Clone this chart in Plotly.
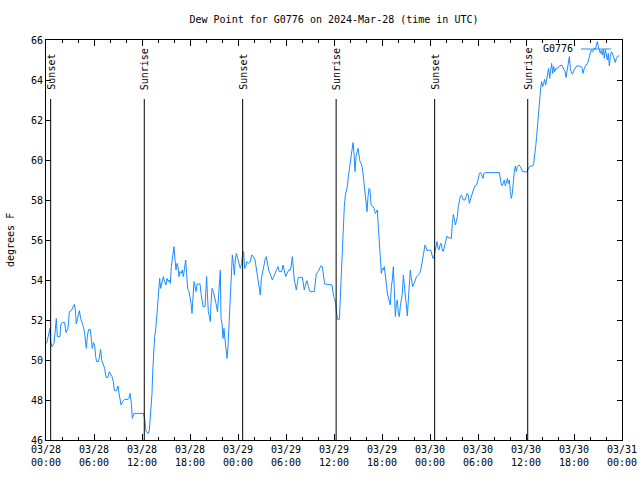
import pandas as pd
import plotly.graph_objects as go

# hours after 2024-03-28 00:00 UTC
hours = [0.08,0.25,0.42,0.5,0.58,0.75,1.0,1.17,1.29,1.42,1.75,1.83,2.04,2.33,2.5,2.75,2.92,3.17,3.42,3.54,3.67,3.79,3.92,4.04,4.17,4.33,4.5,4.67,4.83,4.92,5.04,5.17,5.33,5.54,5.67,5.79,5.92,6.08,6.21,6.33,6.58,6.71,6.83,6.96,7.17,7.33,7.5,7.75,7.92,8.08,8.25,8.42,8.54,8.83,9.0,9.13,9.25,9.38,9.58,9.83,10.25,10.42,10.5,10.67,10.79,10.92,11.0,12.17,12.33,12.5,12.79,12.92,13.08,13.25,13.33,13.46,13.58,13.71,13.83,13.96,14.08,14.21,14.33,14.46,14.67,14.83,15.0,15.13,15.29,15.42,15.54,15.67,15.79,15.92,16.0,16.13,16.25,16.38,16.5,16.63,16.75,16.92,17.04,17.17,17.33,17.46,17.58,17.71,17.88,18.0,18.13,18.25,18.38,18.5,18.63,18.75,18.88,19.25,19.38,19.5,19.63,19.88,20.0,20.08,20.17,20.29,20.42,20.54,20.63,20.75,20.92,21.08,21.25,21.44,21.63,21.79,21.88,22.0,22.13,22.25,22.38,22.5,22.63,22.75,22.88,23.04,23.17,23.29,23.42,23.54,23.67,23.79,23.96,24.13,24.29,24.46,24.58,24.71,24.83,24.96,25.13,25.29,25.54,25.71,25.92,26.13,26.25,26.38,26.54,26.67,26.79,26.92,27.08,27.25,27.42,27.54,27.67,27.83,28.0,28.17,28.29,28.46,28.63,28.83,29.0,29.17,29.46,29.63,29.79,29.96,30.13,30.33,30.54,30.67,30.79,30.92,31.04,31.17,31.29,31.42,31.54,32.04,32.17,32.29,32.46,32.63,32.79,33.0,33.54,33.67,33.79,34.04,34.17,34.33,34.54,34.67,34.83,35.75,35.83,35.96,36.08,36.21,36.33,36.46,36.67,36.79,36.92,37.04,37.17,37.29,37.42,37.54,37.67,37.79,37.92,38.04,38.17,38.29,38.38,38.5,38.63,38.75,38.88,39.0,39.13,39.25,39.38,39.5,39.63,39.75,39.88,40.0,40.13,40.25,40.38,40.5,40.63,40.83,41.0,41.17,41.29,41.42,41.54,41.67,41.79,41.92,42.04,42.17,42.29,42.42,42.54,42.69,42.88,43.04,43.17,43.29,43.42,43.54,43.67,43.79,43.92,44.04,44.17,44.29,44.42,44.54,44.67,44.79,44.92,45.04,45.17,45.29,45.42,45.54,45.67,45.83,46.0,46.17,46.33,46.54,46.71,46.88,47.0,47.13,47.25,47.38,47.5,47.63,47.88,48.13,48.25,48.38,48.5,48.63,48.75,48.88,49.0,49.13,49.25,49.38,49.5,49.63,49.75,49.88,50.0,50.13,50.25,50.67,50.79,50.92,51.04,51.17,51.29,51.42,51.54,51.67,51.79,51.92,52.04,52.17,52.38,52.5,52.63,52.79,52.92,53.04,53.21,53.42,53.63,53.83,54.0,54.17,54.33,54.5,54.63,54.75,54.92,56.67,56.79,56.92,57.04,57.17,57.29,57.42,57.54,57.67,57.79,57.92,58.04,58.17,58.29,58.42,58.54,58.67,58.79,58.92,59.13,59.29,59.46,59.58,60.08,60.29,60.42,60.58,60.83,60.96,61.08,61.21,61.33,61.46,61.58,61.71,61.83,61.96,62.08,62.21,62.33,62.46,62.58,62.71,62.83,62.96,63.08,63.21,63.33,63.46,63.58,63.75,63.96,64.17,64.46,64.67,64.88,65.0,65.13,65.29,65.42,65.54,65.71,65.83,66.0,66.33,66.75,67.0,67.13,67.25,67.42,67.67,67.83,68.0,68.17,68.33,68.5,68.67,68.83,68.92,69.04,69.17,69.29,69.42,69.54,69.67,69.79,69.92,70.04,70.17,70.29,70.42,70.54,70.67,70.83,71.0,71.17,71.29,71.46,71.67]

dewpoint = [50.83,51.17,51.5,51.58,50.9,50.67,50.83,51.75,52.08,51.17,51.17,51.75,51.88,51.88,51.37,51.58,52.42,52.47,52.67,52.78,52.5,51.8,52.03,52.3,52.47,52.08,51.87,51.67,51.33,50.83,50.58,51.2,51.53,51.53,51.0,50.58,50.87,50.75,50.17,49.92,49.92,50.33,50.53,50.0,49.75,49.58,49.13,49.13,49.42,49.33,49.17,48.92,48.47,48.47,48.7,48.33,48.0,47.75,47.92,48.03,48.03,48.13,48.33,47.83,47.08,47.25,47.33,47.33,47.08,46.42,46.33,46.5,47.25,48.33,49.33,50.33,51.17,51.5,52.17,52.83,53.67,54.08,53.58,53.83,54.17,53.92,53.75,54.08,53.92,54.0,53.83,54.67,55.0,55.42,55.67,55.0,54.5,54.83,54.67,54.17,54.42,54.33,54.5,54.17,54.58,55.0,54.33,53.58,53.42,53.17,52.83,52.33,53.0,53.92,53.67,53.42,53.8,53.8,53.33,53.0,52.67,52.67,53.58,54.17,53.33,52.42,52.17,51.92,52.83,53.58,53.42,53.17,52.83,52.4,53.92,54.5,52.08,51.83,51.08,51.58,51.0,50.67,50.08,50.67,51.92,53.25,54.5,55.25,54.83,54.25,55.0,55.33,55.08,54.75,54.58,54.83,55.33,55.42,54.58,54.67,54.92,54.83,54.92,55.25,55.17,55.0,54.67,54.42,54.0,53.5,53.25,54.08,54.42,54.75,55.08,55.17,54.83,54.5,54.33,54.17,54.0,54.17,54.33,54.5,54.67,54.42,54.42,54.75,54.5,54.17,54.33,54.5,54.5,54.75,55.17,54.33,54.0,53.75,53.5,53.83,54.13,54.13,53.75,53.5,53.8,53.97,53.67,53.42,53.42,53.83,54.33,54.42,54.58,54.7,54.67,54.25,53.8,53.75,53.5,53.17,53.08,52.83,52.33,52.03,52.03,53.17,54.17,55.33,56.5,57.67,58.25,58.42,58.67,59.17,59.58,59.92,60.25,60.67,60.87,60.33,59.42,60.17,60.42,60.58,60.25,59.92,59.83,59.67,59.33,58.83,58.25,57.67,57.42,58.17,58.58,58.5,57.75,57.7,57.58,57.33,57.42,57.5,56.67,55.67,54.75,54.33,54.58,54.5,54.67,54.17,53.67,53.3,53.0,52.75,53.67,54.0,54.67,53.33,52.17,52.83,53.0,52.33,52.17,52.67,53.08,53.33,54.25,53.67,53.0,52.5,52.2,53.0,53.75,54.5,54.08,53.67,53.83,54.0,54.17,54.25,54.33,54.58,54.83,55.17,55.5,55.75,55.63,55.47,55.5,55.47,55.25,55.08,55.17,55.5,55.83,55.92,55.58,55.5,55.75,55.83,55.58,55.42,55.58,55.83,56.0,56.2,56.13,56.08,56.83,57.28,57.08,56.75,56.92,57.17,57.67,58.0,58.17,58.25,58.08,58.0,58.0,58.17,58.33,58.25,57.83,58.0,58.25,58.5,58.72,58.75,59.0,59.33,59.37,59.17,59.08,59.33,59.37,59.37,59.0,58.75,58.72,58.92,59.0,58.7,58.92,59.08,58.83,59.0,58.42,58.08,58.33,59.0,59.42,59.7,59.42,59.67,59.75,59.67,59.5,59.42,59.4,59.58,59.67,59.7,59.7,59.83,60.17,60.67,61.17,61.83,62.67,63.08,63.58,63.92,63.67,63.83,64.03,63.75,64.08,64.33,64.58,64.08,64.5,64.83,64.33,64.67,64.42,64.58,64.58,64.7,64.75,64.58,64.42,64.13,64.42,64.7,65.17,64.58,64.33,64.3,64.5,64.7,64.7,64.63,64.33,64.53,64.7,64.83,65.0,65.3,65.5,65.42,65.58,65.53,65.75,65.92,65.67,65.53,65.33,65.5,65.25,65.53,65.08,65.53,65.3,65.0,65.33,64.7,65.17,65.42,65.3,65.08,64.87,65.08,65.2,65.2]

event_labels = ["Sunset", "Sunrise", "Sunset", "Sunrise", "Sunset", "Sunrise"]
event_times = ["2024-03-28 00:35", "2024-03-28 12:17", "2024-03-29 00:35",
               "2024-03-29 12:16", "2024-03-30 00:35", "2024-03-30 12:13"]

series_name = "G0776"
title_text = "Dew Point for G0776 on 2024-Mar-28 (time in UTC)"
y_title = "degrees F"

base = pd.Timestamp("2024-03-28 00:00")
times = base + pd.to_timedelta(hours, unit="h")

FONT = "DejaVu Sans Mono"
LINE_COLOR = "#1a8cff"

fig = go.Figure()
fig.add_trace(go.Scatter(x=times, y=dewpoint, mode="lines", name=series_name,
                         line=dict(color=LINE_COLOR, width=1), showlegend=False))

shapes = []
annotations = []
for lab, t in zip(event_labels, event_times):
    shapes.append(dict(type="line", xref="x", yref="paper", x0=t, x1=t, y0=0, y1=0.8525,
                       line=dict(color="black", width=1)))
    annotations.append(dict(x=t, xref="x", y=0.87, yref="paper", text=lab, textangle=-90,
                            showarrow=False, xanchor="center", yanchor="bottom",
                            font=dict(family=FONT, size=10, color="black")))

# legend (gnuplot style: text then line sample)
shapes.append(dict(type="line", xref="paper", yref="paper",
                   x0=(581 - 46) / 576, x1=(611 - 46) / 576, y0=(440 - 49) / 400, y1=(440 - 49) / 400,
                   line=dict(color=LINE_COLOR, width=1)))
annotations.append(dict(x=(575 - 46) / 576, xref="paper", y=(440 - 49) / 400, yref="paper",
                        text=series_name, showarrow=False, xanchor="right", yanchor="middle",
                        font=dict(family=FONT, size=10, color="black")))
annotations.append(dict(x=(10 - 46) / 576, xref="paper", y=0.5, yref="paper", text=y_title,
                        textangle=-90, showarrow=False, xanchor="center", yanchor="middle",
                        font=dict(family=FONT, size=10, color="black")))

fig.update_layout(
    width=640, height=480,
    margin=dict(l=46, r=18, t=40, b=40, autoexpand=False),
    paper_bgcolor="white", plot_bgcolor="white",
    title=dict(text=title_text, x=0.5, xref="paper", xanchor="center", y=1 - 19 / 480,
               yanchor="middle", font=dict(family=FONT, size=10, color="black")),
    font=dict(family=FONT, size=10, color="black"),
    shapes=shapes, annotations=annotations,
    xaxis=dict(range=["2024-03-28 00:00", "2024-03-31 00:00"], type="date", automargin=False,
               dtick=6 * 3600 * 1000, tick0="2024-03-28 00:00", tickformat="%m/%d<br>%H:%M",
               ticks="inside", ticklen=6, tickcolor="black", showline=True, linecolor="black",
               linewidth=1, mirror="allticks", showgrid=False, zeroline=False,
               minor=dict(dtick=2 * 3600 * 1000, ticks="inside", ticklen=3, tickcolor="black",
                          showgrid=False),
               tickfont=dict(family=FONT, size=10, color="black")),
    yaxis=dict(range=[46, 66], dtick=2, tick0=46, ticks="inside", ticklen=5, tickcolor="black",
               showline=True, linecolor="black", linewidth=1, mirror="allticks", automargin=False,
               showgrid=False, zeroline=False,
               tickfont=dict(family=FONT, size=10, color="black")),
)

fig.write_html("out.html")
